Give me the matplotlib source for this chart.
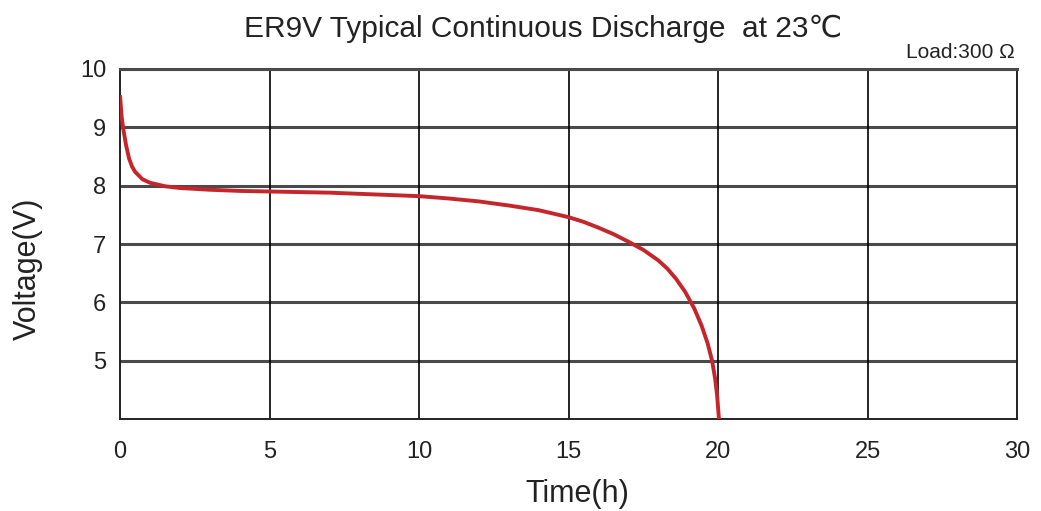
import matplotlib
matplotlib.use("Agg")
from matplotlib import pyplot as plt

# discharge curve
hours = [0, 0.05, 0.1, 0.2, 0.3, 0.4, 0.5, 0.75, 1.0, 1.5, 2, 3, 4, 5, 6, 7, 8, 9, 10,
         11, 12, 13, 14, 15, 15.5, 16, 16.5, 17, 17.5, 18, 18.3, 18.6, 18.9, 19.2, 19.45,
         19.65, 19.8, 19.9, 19.97, 20.03]
volts = [9.55, 9.2, 9.0, 8.7, 8.47, 8.33, 8.24, 8.11, 8.05, 7.99, 7.96, 7.93, 7.91, 7.90, 7.89, 7.88, 7.86, 7.84, 7.82,
         7.78, 7.73, 7.66, 7.58, 7.46, 7.38, 7.28, 7.17, 7.04, 6.90, 6.72, 6.58, 6.40, 6.18, 5.90, 5.60,
         5.30, 5.00, 4.70, 4.40, 4.00]
xticks = [0, 5, 10, 15, 20, 25, 30]
yticks = [5, 6, 7, 8, 9, 10]

plt.rcParams['font.family'] = ['Liberation Sans', 'DejaVu Sans']

fig = plt.figure(figsize=(10.41, 5.11), dpi=100)
ax = fig.add_axes([0.1153, 0.180, 0.8617, 0.685])

ax.set_xlim(0, 30)
ax.set_ylim(4, 10)
for y in yticks:
    ax.axhline(y, color='#4a4a4a', lw=2.2, zorder=1)
for x in xticks[1:-1]:
    ax.axvline(x, color='black', lw=1.2, zorder=1)

ax.plot(hours, volts, color='#c4262b', lw=2.8, zorder=3, solid_capstyle='butt')

for s in ax.spines.values():
    s.set_linewidth(1.4)
    s.set_color('#222222')
ax.spines['top'].set_color('#4a4a4a')
ax.spines['top'].set_linewidth(2.2)

ax.set_xticks(xticks)
ax.set_yticks(yticks)
ax.tick_params(length=0, labelsize=17, colors='#222222')
ax.tick_params(axis='x', pad=16)
ax.tick_params(axis='y', pad=10)

ax.set_xlabel('Time(h)', fontsize=22, color='#222222')
ax.set_ylabel('Voltage(V)', fontsize=22, color='#222222')
ax.xaxis.set_label_coords(0.51, -0.17)
ax.yaxis.set_label_coords(-0.086, 0.43)
fig.text(0.522, 0.943, 'ER9V Typical Continuous Discharge  at 23\u2103', ha='center', va='center',
         fontsize=21.5, color='#222222')
fig.text(0.975, 0.897, 'Load:300 \u03a9', ha='right', va='center', fontsize=15, color='#222222')

fig.savefig('out.png', dpi=100)
